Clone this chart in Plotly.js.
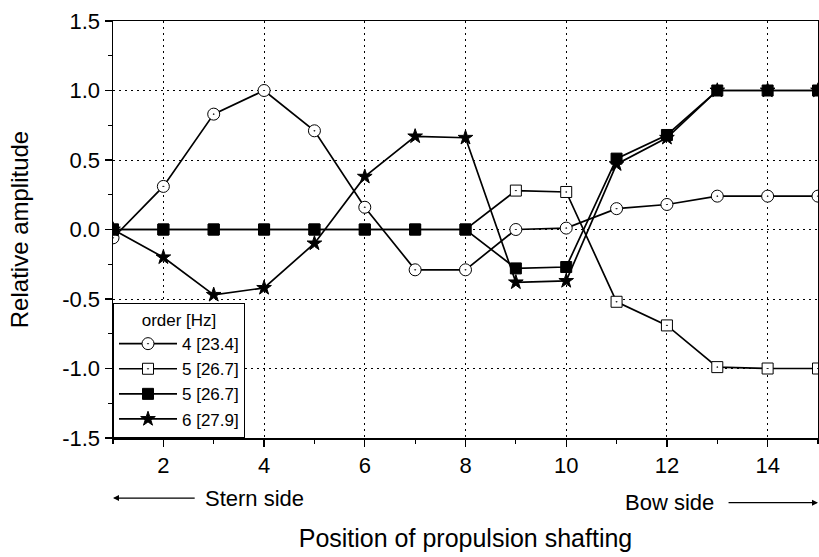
<!DOCTYPE html>
<html>
<head>
<meta charset="utf-8">
<script src="https://cdn.plot.ly/plotly-3.0.1.min.js"></script>
<style>html,body{margin:0;padding:0;background:#fff;}#chart{width:819px;height:557px;}</style>
</head>
<body>
<div id="chart"></div>
<script>
var positions = [1,2,3,4,5,6,7,8,9,10,11,12,13,14,15];
var order4_23_4 = [-0.06,0.31,0.83,1.0,0.71,0.16,-0.29,-0.29,0.0,0.01,0.15,0.18,0.24,0.24,0.24];
var order5_26_7_open = [0,0,0,0,0,0,0,0,0.28,0.27,-0.52,-0.69,-0.99,-1.0,-1.0];
var order5_26_7_filled = [0,0,0,0,0,0,0,0,-0.28,-0.27,0.51,0.68,1.0,1.0,1.0];
var order6_27_9 = [0,-0.2,-0.47,-0.42,-0.1,0.38,0.67,0.66,-0.38,-0.37,0.47,0.66,1.0,1.0,1.0];
var seriesNames = ['4 [23.4]','5 [26.7]','5 [26.7]','6 [27.9]'];
var xTickVals = [2,4,6,8,10,12,14];
var xTickText = ['2','4','6','8','10','12','14'];
var yTickVals = [-1.5,-1.0,-0.5,0,0.5,1.0,1.5];
var yTickText = ['-1.5','-1.0','-0.5','0.0','0.5','1.0','1.5'];

var font = 'Liberation Sans, Arial, sans-serif';
function tr(y, name, symbol, fill, size) {
  return {
    x: positions, y: y, name: name, type: 'scatter', mode: 'lines+markers',
    line: {color: '#000', width: 1.7},
    marker: {symbol: symbol, size: size, color: fill, line: {color: '#000', width: 1}},
    cliponaxis: true
  };
}
var data = [
  tr(order4_23_4, seriesNames[0], 'circle-dot', '#fff', 12),
  tr(order5_26_7_open, seriesNames[1], 'square-dot', '#fff', 11),
  tr(order5_26_7_filled, seriesNames[2], 'square', '#000', 11),
  tr(order6_27_9, seriesNames[3], 'star', '#000', 11)
];
var layout = {
  width: 819, height: 557,
  margin: {l: 113, r: 1, t: 21, b: 119},
  paper_bgcolor: '#fff', plot_bgcolor: '#fff',
  font: {family: font, color: '#000', size: 22},
  showlegend: true,
  xaxis: {
    range: [1, 15], tickmode: 'array', tickvals: xTickVals, ticktext: xTickText,
    ticks: 'outside', ticklen: 7, tickwidth: 1.2, tickcolor: '#000',
    showline: true, linecolor: '#000', linewidth: 1.5, mirror: true,
    showgrid: true, gridcolor: '#000', griddash: '2px,4px', gridwidth: 1,
    zeroline: false, tickfont: {size: 22},
    minor: {dtick: 1, tick0: 1, ticks: 'outside', ticklen: 4, tickcolor: '#000', showgrid: false},
    title: {text: 'Position of propulsion shafting', font: {size: 25}, standoff: 52}
  },
  yaxis: {
    range: [-1.5, 1.5], tickmode: 'array', tickvals: yTickVals, ticktext: yTickText,
    ticks: 'outside', ticklen: 7, tickwidth: 1.2, tickcolor: '#000',
    showline: true, linecolor: '#000', linewidth: 1.5, mirror: true,
    showgrid: true, gridcolor: '#000', griddash: '2px,4px', gridwidth: 1,
    zeroline: false, tickfont: {size: 22},
    minor: {dtick: 0.25, tick0: 0, ticks: 'outside', ticklen: 4, tickcolor: '#000', showgrid: false},
    title: {text: 'Relative amplitude', font: {size: 24}, standoff: 27}
  },
  legend: {
    x: 0, y: 0, xanchor: 'left', yanchor: 'bottom',
    bgcolor: '#fff', bordercolor: '#000', borderwidth: 1,
    font: {size: 17}, itemwidth: 58, tracegroupgap: 0,
    title: {text: 'order [Hz]', side: 'top center', font: {size: 17}}
  },
  annotations: [
    {xref: 'paper', yref: 'paper', x: 0.0, y: -0.144, text: '', showarrow: true,
     ax: 0.118, ay: -0.144, axref: 'paper', ayref: 'paper',
     arrowhead: 2, arrowsize: 1, arrowwidth: 1.2, arrowcolor: '#000', standoff: 0},
    {xref: 'paper', yref: 'paper', x: 0.128, y: -0.144, text: 'Stern side', showarrow: false,
     xanchor: 'left', yanchor: 'middle', font: {size: 22}},
    {xref: 'paper', yref: 'paper', x: 1.0, y: -0.155, text: '', showarrow: true,
     ax: 0.871, ay: -0.155, axref: 'paper', ayref: 'paper',
     arrowhead: 2, arrowsize: 1, arrowwidth: 1.2, arrowcolor: '#000', standoff: 0},
    {xref: 'paper', yref: 'paper', x: 0.855, y: -0.155, text: 'Bow side', showarrow: false,
     xanchor: 'right', yanchor: 'middle', font: {size: 22}}
  ]
};
Plotly.newPlot('chart', data, layout, {displayModeBar: false, staticPlot: true});
</script>
</body>
</html>
